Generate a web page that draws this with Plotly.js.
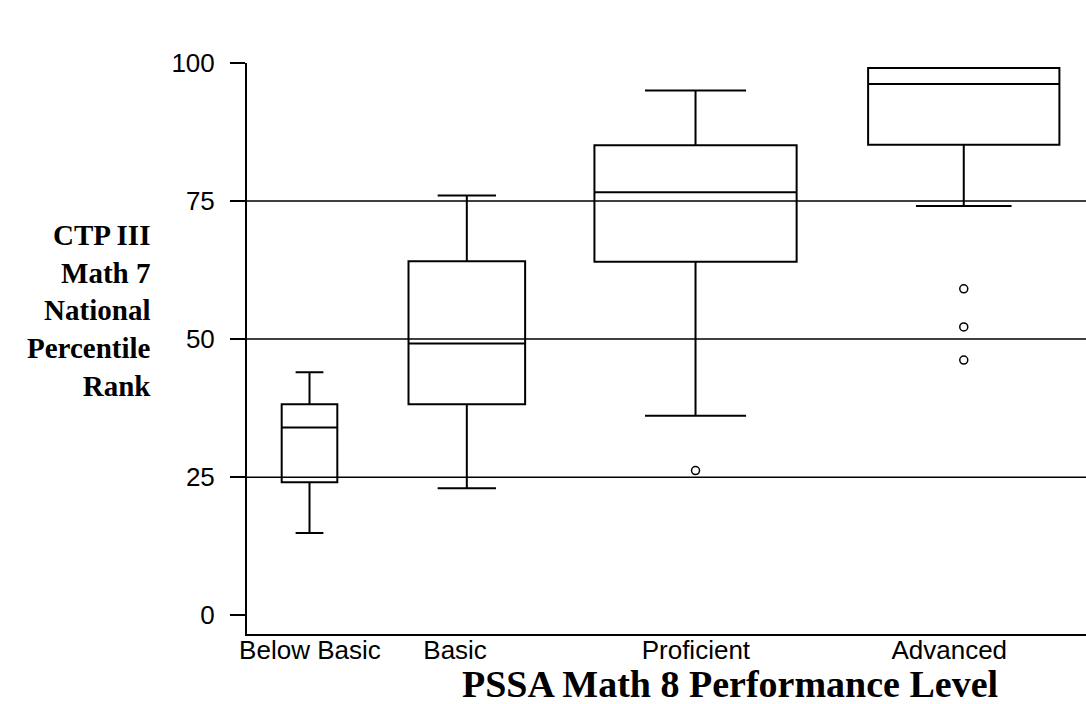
<!DOCTYPE html>
<html>
<head>
<meta charset="utf-8">
<script src="https://cdn.plot.ly/plotly-3.0.1.min.js"></script>
<style>html,body{margin:0;padding:0;background:#fff;}#chart{width:1086px;height:704px;}</style>
</head>
<body>
<div id="chart"></div>
<script>
// ---- data ----
const categories = ["Below Basic", "Basic", "Proficient", "Advanced"];
const lowerWhisker = [14.9, 23.0, 36.1, 74.1];
const q1Values     = [24.1, 38.2, 64.0, 85.2];
const medianValues = [34.0, 49.2, 76.6, 96.2];
const q3Values     = [38.2, 64.1, 85.1, 99.1];
const upperWhisker = [44.0, 76.0, 95.0, 99.1];
const outlierGroup = ["Proficient", "Advanced", "Advanced", "Advanced"];
const outlierValues = [26.2, 59.1, 52.2, 46.2];
const yTickValues = [0, 25, 50, 75, 100];
const referenceLines = [25, 50, 75];
const xTitle = 'PSSA Math 8 Performance Level';
const yTitleLines = ['CTP III', 'Math 7', 'National', 'Percentile', 'Rank'];

// ---- layout constants (positions on a 0-100 horizontal scale) ----
const boxCenters = [7.45, 26.2, 53.46, 85.43];
const boxWidths  = [6.63, 13.9, 24.1, 22.8];
const labelCenters = [7.5, 24.8, 53.5, 83.7];

const traces = categories.map((c, i) => ({
  type: 'box',
  name: c,
  x: [boxCenters[i]],
  q1: [q1Values[i]],
  median: [medianValues[i]],
  q3: [q3Values[i]],
  lowerfence: [lowerWhisker[i]],
  upperfence: [upperWhisker[i]],
  width: boxWidths[i],
  whiskerwidth: 0.5,
  boxpoints: false,
  line: {color: 'black', width: 2},
  fillcolor: 'rgba(0,0,0,0)',
  showlegend: false,
  hoverinfo: 'skip'
}));

traces.push({
  type: 'scatter',
  mode: 'markers',
  x: outlierGroup.map(g => boxCenters[categories.indexOf(g)]),
  y: outlierValues,
  marker: {symbol: 'circle-open', size: 8, color: 'black', line: {width: 1.5, color: 'black'}},
  showlegend: false,
  hoverinfo: 'skip'
});

const sansFont = 'Arial, "Liberation Sans", sans-serif';
const serifFont = '"Liberation Serif", "Times New Roman", serif';

const layout = {
  width: 1086,
  height: 704,
  margin: {l: 247, r: 0, t: 63, b: 70},
  paper_bgcolor: 'white',
  plot_bgcolor: 'white',
  boxmode: 'overlay',
  showlegend: false,
  font: {family: sansFont, color: 'black'},
  xaxis: {
    range: [0, 100],
    tickvals: labelCenters,
    ticktext: categories,
    ticks: '',
    ticklabelstandoff: -8,
    showline: true,
    linecolor: 'black',
    linewidth: 2,
    showgrid: false,
    zeroline: false,
    tickfont: {family: sansFont, size: 26, color: 'black'},
    fixedrange: true
  },
  yaxis: {
    range: [-3.4, 100],
    tickvals: yTickValues,
    ticks: 'outside',
    ticklen: 15,
    tickwidth: 1.5,
    tickcolor: 'black',
    showline: true,
    linecolor: 'black',
    linewidth: 2,
    showgrid: false,
    zeroline: false,
    ticklabelstandoff: 10,
    tickfont: {family: sansFont, size: 26, color: 'black'},
    fixedrange: true
  },
  shapes: referenceLines.map(v => ({
    type: 'line', xref: 'paper', x0: 0, x1: 1, yref: 'y', y0: v, y1: v,
    line: {color: 'black', width: 1.5}, layer: 'below'
  })),
  annotations: [{
    text: '<b>' + yTitleLines.join('<br>') + '</b>',
    xref: 'paper', yref: 'paper',
    x: -0.112, y: 0.566,
    xanchor: 'right', yanchor: 'middle',
    align: 'right',
    showarrow: false,
    font: {family: serifFont, size: 29, color: 'black'}
  }, {
    text: '<b>' + xTitle + '</b>',
    xref: 'paper', yref: 'paper',
    x: 0.5757, y: -0.088,
    xanchor: 'center', yanchor: 'middle',
    showarrow: false,
    font: {family: serifFont, size: 38, color: 'black'}
  }]
};

Plotly.newPlot('chart', traces, layout, {displayModeBar: false, staticPlot: true});
</script>
</body>
</html>
